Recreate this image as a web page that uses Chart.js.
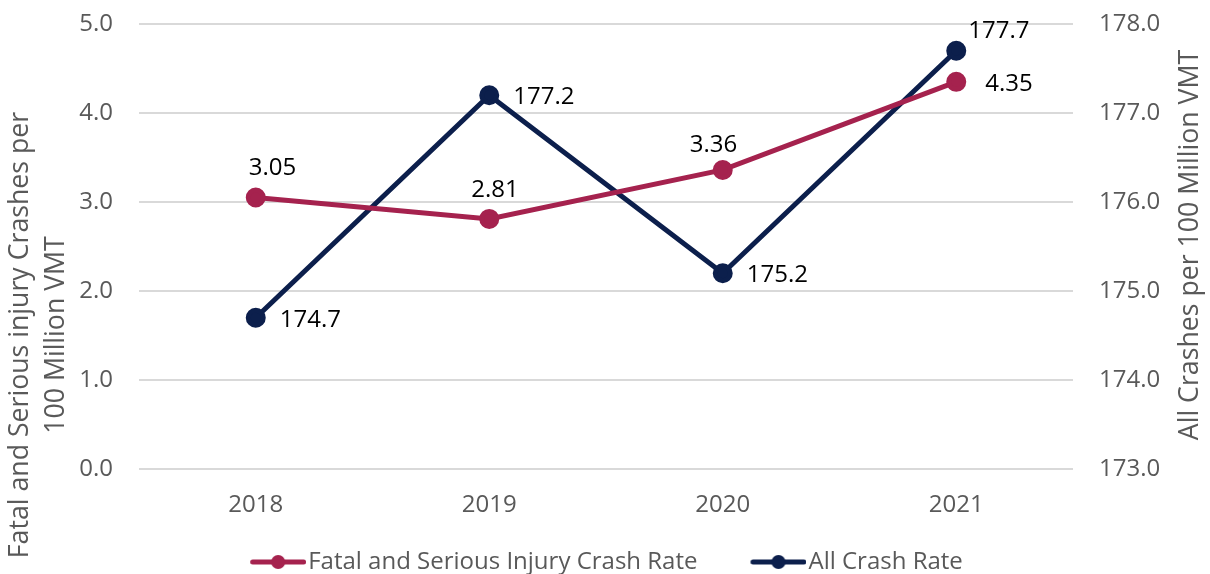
<!DOCTYPE html>
<html>
<head>
<meta charset="utf-8">
<script src="https://cdn.jsdelivr.net/npm/chart.js@4.4.1/dist/chart.umd.min.js"></script>
<style>
  html, body { margin: 0; padding: 0; background: #fff; }
  #wrap { width: 1210px; height: 574px; position: relative; }
</style>
</head>
<body>
<div id="wrap"><canvas id="myChart"></canvas></div>
<script>
const years = ["2018", "2019", "2020", "2021"];
const fatalRate = [3.05, 2.81, 3.36, 4.35];
const allCrashRate = [174.7, 177.2, 175.2, 177.7];
const fatalLabels = ["3.05", "2.81", "3.36", "4.35"];
const allCrashLabels = ["174.7", "177.2", "175.2", "177.7"];
const leftTitle = ["Fatal and Serious injury Crashes per", "100 Million VMT"];
const rightTitle = "All Crashes per 100 Million VMT";

// label nudges from each point (dx, dy to text baseline start), like hand-placed Excel labels
const fatalLabelNudge = [[-7, -23], [-18, -22], [-33, -18], [29, 9]];
const allCrashLabelNudge = [[24, 9], [24, 9], [24, 9], [12, -13]];

const crimson = "#A5224E";
const navy = "#0C1F4C";
const greyText = "#595959";
const font = "'Open Sans', 'Noto Sans', sans-serif";

// legend marker: a short line with a dot on it (left part left blank as spacing)
function legendMarker(color) {
  const c = document.createElement("canvas");
  c.width = 91;
  c.height = 18;
  const g = c.getContext("2d");
  g.strokeStyle = color;
  g.lineWidth = 5;
  g.lineCap = "round";
  g.beginPath();
  g.moveTo(37.5, 9);
  g.lineTo(88.5, 9);
  g.stroke();
  g.fillStyle = color;
  g.beginPath();
  g.arc(63, 9, 7, 0, Math.PI * 2);
  g.fill();
  return c;
}

const valueLabels = {
  id: "valueLabels",
  afterDatasetsDraw(chart) {
    const ctx = chart.ctx;
    ctx.save();
    ctx.font = "24px " + font;
    ctx.fillStyle = "#000";
    ctx.textAlign = "left";
    ctx.textBaseline = "alphabetic";
    chart.data.datasets.forEach((ds, i) => {
      const meta = chart.getDatasetMeta(i);
      meta.data.forEach((pt, j) => {
        const [dx, dy] = ds.labelNudge[j];
        ctx.fillText(ds.labelText[j], pt.x + dx, pt.y + dy);
      });
    });
    ctx.restore();
  }
};

// both axis titles read bottom-to-top, as in Excel
const axisTitles = {
  id: "axisTitles",
  afterDraw(chart) {
    const ctx = chart.ctx;
    ctx.save();
    ctx.font = "26.7px " + font;
    ctx.fillStyle = greyText;
    ctx.textAlign = "center";
    ctx.textBaseline = "alphabetic";
    leftTitle.forEach((line, k) => {
      ctx.save();
      ctx.translate(28 + k * 36, 335);
      ctx.rotate(-Math.PI / 2);
      ctx.fillText(line, 0, 0);
      ctx.restore();
    });
    ctx.translate(1198, 245);
    ctx.rotate(-Math.PI / 2);
    ctx.fillText(rightTitle, 0, 0);
    ctx.restore();
  }
};

const ctx = document.getElementById("myChart").getContext("2d");

new Chart(ctx, {
  type: "line",
  data: {
    labels: years,
    datasets: [
      {
        label: "Fatal and Serious Injury Crash Rate",
        data: fatalRate,
        labelText: fatalLabels,
        labelNudge: fatalLabelNudge,
        yAxisID: "y",
        borderColor: crimson,
        backgroundColor: crimson,
        borderWidth: 5,
        pointRadius: 7.5,
        pointHoverRadius: 7.5,
        tension: 0,
        fill: false,
      },
      {
        label: "All Crash Rate",
        data: allCrashRate,
        labelText: allCrashLabels,
        labelNudge: allCrashLabelNudge,
        yAxisID: "y1",
        borderColor: navy,
        backgroundColor: navy,
        borderWidth: 5,
        pointRadius: 7.5,
        pointHoverRadius: 7.5,
        tension: 0,
        fill: false,
      },
    ],
  },
  options: {
    responsive: true,
    maintainAspectRatio: false,
    animation: false,
    layout: { padding: { left: 0, right: 22, top: 24, bottom: -10 } },
    plugins: {
      tooltip: { enabled: false },
      legend: {
        position: "bottom",
        labels: {
          usePointStyle: true,
          pointStyleWidth: 71,
          padding: 28,
          color: greyText,
          font: { family: font, size: 24 },
          generateLabels: (chart) =>
            chart.data.datasets.map((ds, i) => ({
              text: ds.label,
              pointStyle: legendMarker(ds.borderColor),
              fillStyle: ds.borderColor,
              strokeStyle: ds.borderColor,
              lineWidth: 0,
              fontColor: greyText,
              datasetIndex: i,
            })),
        },
      },
    },
    scales: {
      x: {
        offset: true,
        grid: { display: false, drawTicks: false },
        border: { display: false },
        ticks: { color: greyText, font: { family: font, size: 24 }, padding: 21.6 },
        afterFit: (scale) => {
          scale.height = 53;
        },
      },
      y: {
        position: "left",
        min: 0,
        max: 5,
        grid: { color: "#d9d9d9", lineWidth: 2, drawTicks: false },
        border: { display: false },
        ticks: {
          stepSize: 1,
          color: greyText,
          padding: 26,
          font: { family: font, size: 24 },
          callback: (v) => v.toFixed(1),
        },
        afterFit: (scale) => {
          scale.width = 139;
          scale.paddingTop = 0;
          scale.paddingBottom = 0;
        },
      },
      y1: {
        position: "right",
        min: 173,
        max: 178,
        grid: { display: false, drawTicks: false },
        border: { display: false },
        ticks: {
          stepSize: 1,
          color: greyText,
          padding: 26,
          font: { family: font, size: 24 },
          callback: (v) => v.toFixed(1),
        },
        afterFit: (scale) => {
          scale.width = 115;
          scale.paddingTop = 0;
          scale.paddingBottom = 0;
        },
      },
    },
  },
  plugins: [valueLabels, axisTitles],
});
</script>
</body>
</html>
